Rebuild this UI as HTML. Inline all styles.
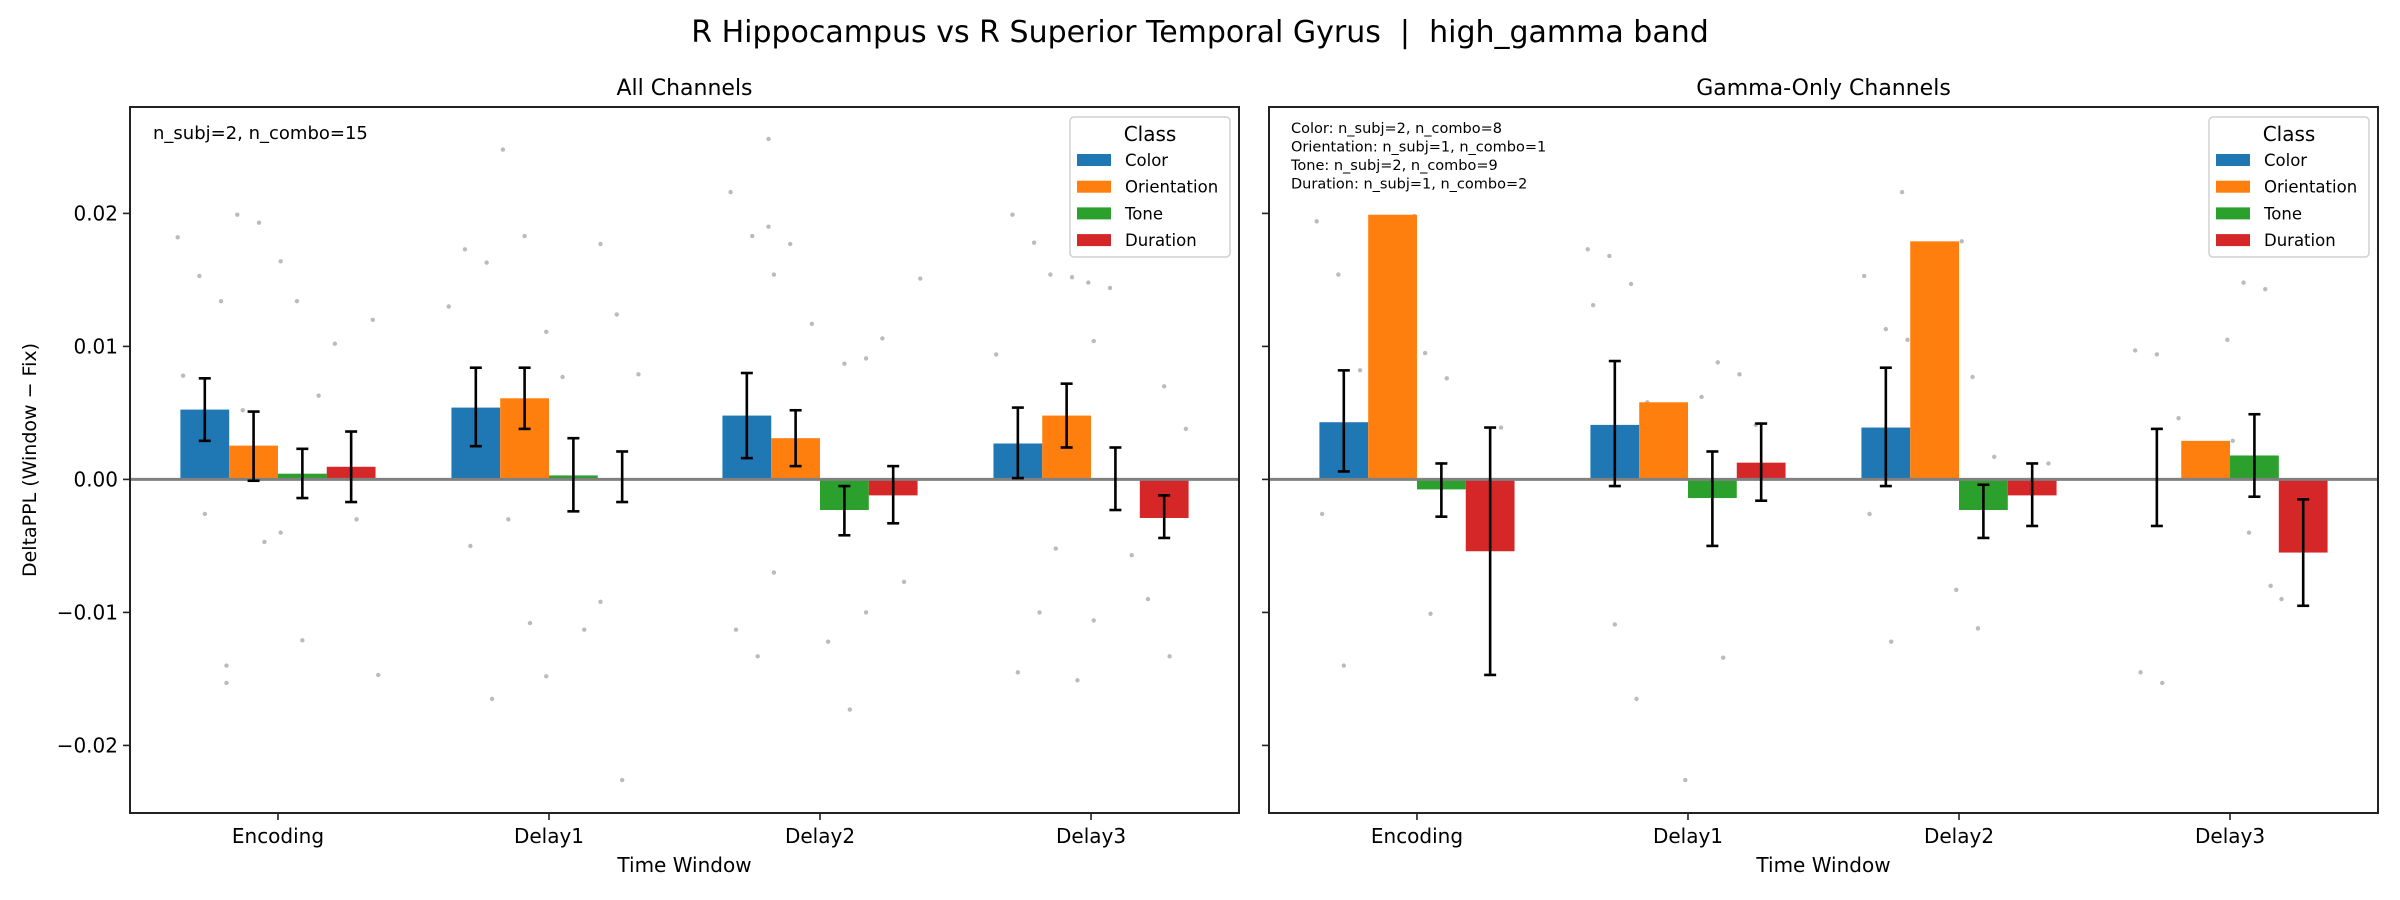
<!DOCTYPE html>
<html><head><meta charset="utf-8"><style>
html,body{margin:0;padding:0;background:#fff;}
svg{display:block;font-family:"DejaVu Sans","Liberation Sans",sans-serif;}
</style></head><body>
<svg id="fig" width="2400" height="900" viewBox="0 0 2400 900" xmlns="http://www.w3.org/2000/svg">
<rect width="2400" height="900" fill="#fff"/>
<text x="1200" y="42" font-size="30" text-anchor="middle" fill="#000" style="white-space:pre">R Hippocampus vs R Superior Temporal Gyrus  |  high_gamma band</text>
<text transform="translate(36,460) rotate(-90)" font-size="19" text-anchor="middle">DeltaPPL (Window − Fix)</text>
</svg>
<script>
const categories = ["Encoding","Delay1","Delay2","Delay3"];
const classes = ["Color","Orientation","Tone","Duration"];
const colors = ["#1f77b4","#ff7f0e","#2ca02c","#d62728"];
const yTicks = [-0.02,-0.01,0,0.01,0.02];
const yTickLabels = ["−0.02","−0.01","0.00","0.01","0.02"];
// All channels: means, err upper, err lower (per class, per category)
const allMean = [[0.00525,0.0054,0.0048,0.0027],[0.00254,0.0061,0.0031,0.0048],[0.00043,0.0003,-0.0023,0.0],[0.00095,0.0001,-0.0012,-0.0029]];
const allHi = [[0.0076,0.0084,0.0080,0.0054],[0.0051,0.0084,0.0052,0.0072],[0.0023,0.0031,-0.0005,0.0024],[0.0036,0.0021,0.0010,-0.0012]];
const allLo = [[0.0029,0.0025,0.0016,0.0001],[-0.0001,0.0038,0.0010,0.0024],[-0.0014,-0.0024,-0.0042,-0.0023],[-0.0017,-0.0017,-0.0033,-0.0044]];
// Gamma-only channels
const gamMean = [[0.0043,0.0041,0.0039,0.0],[0.0199,0.0058,0.0179,0.0029],[-0.00075,-0.0014,-0.0023,0.0018],[-0.0054,0.00126,-0.0012,-0.0055]];
const gamHi = [[0.0082,0.0089,0.0084,0.0038],[null,null,null,null],[0.0012,0.0021,-0.0004,0.0049],[0.0039,0.0042,0.0012,-0.0015]];
const gamLo = [[0.0006,-0.0005,-0.0005,-0.0035],[null,null,null,null],[-0.0028,-0.0050,-0.0044,-0.0013],[-0.0147,-0.0016,-0.0035,-0.0095]];
// scatter points: category index, class index, value
const allPts = [[0,0,0.0182],[0,0,0.0153],[0,0,0.0134],[0,0,0.0078],[0,0,-0.0026],[0,0,-0.0140],[0,1,0.0199],[0,1,0.0193],[0,1,0.0164],[0,1,0.0052],[0,1,-0.0047],[0,1,-0.0153],[0,2,0.0134],[0,2,0.0063],[0,2,-0.0040],[0,2,-0.0121],[0,3,0.0120],[0,3,0.0102],[0,3,-0.0030],[0,3,-0.0147],
[1,0,0.0173],[1,0,0.0163],[1,0,0.0130],[1,0,-0.0050],[1,0,-0.0165],[1,1,0.0248],[1,1,0.0183],[1,1,0.0111],[1,1,-0.0030],[1,1,-0.0108],[1,2,0.0177],[1,2,0.0077],[1,2,-0.0113],[1,2,-0.0148],[1,3,0.0124],[1,3,0.0079],[1,3,-0.0092],[1,3,-0.0226],
[2,0,0.0256],[2,0,0.0216],[2,0,0.0183],[2,0,0.0154],[2,0,-0.0113],[2,0,-0.0133],[2,1,0.0190],[2,1,0.0177],[2,1,0.0117],[2,1,-0.0070],[2,2,0.0087],[2,2,0.0091],[2,2,-0.0122],[2,2,-0.0173],[2,3,0.0151],[2,3,0.0106],[2,3,-0.0077],[2,3,-0.0100],
[3,0,0.0199],[3,0,0.0178],[3,0,0.0094],[3,0,-0.0145],[3,0,-0.0100],[3,1,0.0154],[3,1,0.0152],[3,1,0.0104],[3,1,-0.0052],[3,1,-0.0151],[3,2,0.0148],[3,2,0.0144],[3,2,-0.0057],[3,2,-0.0106],[3,3,0.0070],[3,3,0.0038],[3,3,-0.0090],[3,3,-0.0133]];
const gamPts = [[0,0,0.0194],[0,0,0.0154],[0,0,0.0082],[0,0,-0.0026],[0,0,-0.0140],[0,1,0.0198],[0,2,0.0095],[0,2,0.0076],[0,2,-0.0020],[0,2,-0.0101],[0,3,0.0039],
[1,0,0.0173],[1,0,0.0168],[1,0,0.0147],[1,0,0.0131],[1,0,-0.0109],[1,0,-0.0165],[1,1,0.0058],[1,2,0.0088],[1,2,0.0079],[1,2,0.0062],[1,2,-0.0134],[1,2,-0.0226],[1,3,0.0041],
[2,0,0.0216],[2,0,0.0153],[2,0,0.0113],[2,0,0.0105],[2,0,-0.0026],[2,0,-0.0122],[2,1,0.0179],[2,2,0.0077],[2,2,0.0017],[2,2,-0.0083],[2,2,-0.0112],[2,3,0.0012],
[3,0,0.0097],[3,0,0.0094],[3,0,0.0046],[3,0,-0.0145],[3,0,-0.0153],[3,1,0.0029],[3,2,0.0148],[3,2,0.0143],[3,2,0.0105],[3,2,-0.0040],[3,2,-0.0080],[3,3,-0.0090]];

const NS="http://www.w3.org/2000/svg";
const fig=document.getElementById('fig');
function mk(tag,attrs,parent){const e=document.createElementNS(NS,tag);for(const k in attrs)e.setAttribute(k,attrs[k]);(parent||fig).appendChild(e);return e;}
const Y0=-0.02508, Y1=0.0280, TOP=107, BOT=813;
const X0=-0.546, X1=3.546, BW=0.18;
function yS(v){return BOT-(v-Y0)/(Y1-Y0)*(BOT-TOP);}

function panel(L,R,title,mean,hi,lo,pts,showYLabels,name){
  const g=mk('g',{});
  
  
  const xS=v=>L+(v-X0)/(X1-X0)*(R-L);
  pts.forEach((p,i)=>{
    const off=((i*37)%11-5)/5*0.1;
    const c=mk('circle',{cx:xS(p[0]+(p[1]-1.5)*BW+off),cy:yS(p[2]),r:2.2,fill:'#bbbbbb'},g);
    
    
  });
  for(let k=0;k<4;k++)for(let c=0;c<4;c++){
    const v=mean[k][c];const xc=c+(k-1.5)*BW;
    const x=xS(xc-BW/2), w=xS(xc+BW/2)-x;
    const y=Math.min(yS(v),yS(0)), h=Math.abs(yS(v)-yS(0));
    const r=mk('rect',{x:x,y:y,width:w,height:h,fill:colors[k]},g);
    
    
  }
  const zl=mk('line',{x1:L,x2:R,y1:yS(0),y2:yS(0),stroke:'#808080','stroke-width':3},g);
  
  
  for(let k=0;k<4;k++)for(let c=0;c<4;c++){
    if(hi[k][c]===null)continue;
    const xc=xS(c+(k-1.5)*BW);
    const eg=mk('g',{stroke:'#000','stroke-width':2.6},g);
    
    
    mk('line',{x1:xc,x2:xc,y1:yS(hi[k][c]),y2:yS(lo[k][c])},eg);
    mk('line',{x1:xc-6,x2:xc+6,y1:yS(hi[k][c]),y2:yS(hi[k][c])},eg);
    mk('line',{x1:xc-6,x2:xc+6,y1:yS(lo[k][c]),y2:yS(lo[k][c])},eg);
  }
  const fr=mk('rect',{x:L,y:TOP,width:R-L,height:BOT-TOP,fill:'none',stroke:'#222','stroke-width':2},g);
  
  
  yTicks.forEach((t,i)=>{
    mk('line',{x1:L-7,x2:L,y1:yS(t),y2:yS(t),stroke:'#222','stroke-width':1.6},g);
    if(showYLabels){
      const tx=mk('text',{x:L-12,y:yS(t)+7,'font-size':20,'text-anchor':'end'},g);
      tx.textContent=yTickLabels[i];
      
      
    }
  });
  categories.forEach((cat,c)=>{
    mk('line',{x1:xS(c),x2:xS(c),y1:BOT,y2:BOT+7,stroke:'#222','stroke-width':1.6},g);
    const tx=mk('text',{x:xS(c),y:BOT+30,'font-size':20,'text-anchor':'middle'},g);
    tx.textContent=cat;
    
    
  });
  const xl=mk('text',{x:(L+R)/2,y:872,'font-size':20,'text-anchor':'middle'},g);
  xl.textContent='Time Window';
  
  
  const tt=mk('text',{x:(L+R)/2,y:95,'font-size':22,'text-anchor':'middle'},g);
  tt.textContent=title;
  
  
  const lg=mk('g',{},g);
  
  
  const lx=R-169;
  mk('rect',{x:lx,y:117,width:160,height:140,rx:4,fill:'#fff','fill-opacity':0.85,stroke:'#d0d0d0','stroke-width':1.5},lg);
  const lt=mk('text',{x:lx+80,y:141,'font-size':20,'text-anchor':'middle'},lg);
  lt.textContent='Class';
  
  
  classes.forEach((cl,k)=>{
    const yy=160+k*26.7;
    const it=mk('g',{},lg);
    
    
    mk('rect',{x:lx+7,y:yy-6,width:34,height:12,fill:colors[k]},it);
    const t=mk('text',{x:lx+55,y:yy+6,'font-size':16.5},it);
    t.textContent=cl;
  });
  return {g,xS};
}
const p1=panel(130,1239,'All Channels',allMean,allHi,allLo,allPts,true,'panel-all-channels');
const p2=panel(1269,2378,'Gamma-Only Channels',gamMean,gamHi,gamLo,gamPts,false,'panel-gamma-only-channels');
const a1=mk('text',{x:153,y:139,'font-size':18});
a1.textContent='n_subj=2, n_combo=15';


const lines=['Color: n_subj=2, n_combo=8','Orientation: n_subj=1, n_combo=1','Tone: n_subj=2, n_combo=9','Duration: n_subj=1, n_combo=2'];
lines.forEach((s,i)=>{
  const t=mk('text',{x:1291,y:133+i*18.5,'font-size':14.5});
  t.textContent=s;
  
  
});
</script>
</body></html>
